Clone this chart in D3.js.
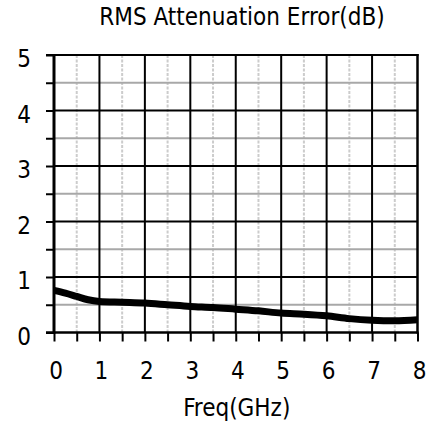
<!DOCTYPE html>
<html><head><meta charset="utf-8">
<script src="https://cdn.jsdelivr.net/npm/d3@7"></script>
<style>body{margin:0;background:#fff}svg{display:block}text{font-family:"DejaVu Sans Condensed","DejaVu Sans",sans-serif;fill:#000}</style>
</head><body>
<script>
const title = "RMS Attenuation Error(dB)";
const xTitle = "Freq(GHz)";
const freq = [0, 0.25, 0.5, 0.75, 1, 1.5, 2, 2.5, 3, 3.5, 4, 4.5, 5, 5.5, 6, 6.5, 7, 7.5, 8];
const rmsErr = [0.76, 0.71, 0.65, 0.59, 0.56, 0.545, 0.53, 0.50, 0.47, 0.45, 0.42, 0.39, 0.35, 0.33, 0.30, 0.25, 0.22, 0.21, 0.23];
const xTicks = [0,1,2,3,4,5,6,7,8];
const yTicks = [0,1,2,3,4,5];

const W = 435, H = 427;
const m = {l:54, r:17.5, t:55, b:94.5};
const svg = d3.select("body").append("svg").attr("width", W).attr("height", H);
const x = d3.scaleLinear().domain([0,8]).range([m.l, W-m.r]);
const y = d3.scaleLinear().domain([0,5]).range([H-m.b, m.t]);
const halfX = d3.range(0.5, 8, 1), halfY = d3.range(0.5, 5, 1);

// minor vertical dashed
svg.append("g").selectAll("line").data(halfX).join("line")
  .attr("x1", d=>x(d)).attr("x2", d=>x(d)).attr("y1", y(5)).attr("y2", y(0))
  .attr("stroke", "#cccccc").attr("stroke-width", 2).attr("stroke-dasharray", "3,1.5");
// minor horizontal gray
svg.append("g").selectAll("line").data(halfY).join("line")
  .attr("x1", x(0)).attr("x2", x(8)).attr("y1", d=>y(d)).attr("y2", d=>y(d))
  .attr("stroke", "#a8a8a8").attr("stroke-width", 2);
// major verticals
svg.append("g").selectAll("line").data(xTicks.slice(1,-1)).join("line")
  .attr("x1", d=>x(d)).attr("x2", d=>x(d)).attr("y1", y(5)).attr("y2", y(0))
  .attr("stroke", "#000").attr("stroke-width", 2);
// major horizontals
svg.append("g").selectAll("line").data(yTicks.slice(1,-1)).join("line")
  .attr("x1", x(0)).attr("x2", x(8)).attr("y1", d=>y(d)).attr("y2", d=>y(d))
  .attr("stroke", "#000").attr("stroke-width", 2);

// axes with ticks
const xAxis = d3.axisBottom(x).tickValues(d3.range(0, 8.01, 0.5)).tickSize(9).tickFormat("");
const gx = svg.append("g").attr("transform", `translate(0,${y(0)})`).call(xAxis);
gx.select(".domain").remove();
gx.selectAll(".tick line").attr("stroke", "#000").attr("stroke-width", 2);
const yAxis = d3.axisLeft(y).tickValues(d3.range(0, 5.01, 0.5)).tickSize(8).tickFormat("");
const gy = svg.append("g").attr("transform", `translate(${x(0)},0)`).call(yAxis);
gy.select(".domain").remove();
gy.selectAll(".tick line").attr("stroke", "#000").attr("stroke-width", 2);

// frame
svg.append("line").attr("x1", x(0)).attr("x2", x(0)).attr("y1", y(5)-1).attr("y2", y(0)+1).attr("stroke","#000").attr("stroke-width",3);
svg.append("line").attr("x1", x(8)).attr("x2", x(8)).attr("y1", y(5)-1).attr("y2", y(0)+1).attr("stroke","#000").attr("stroke-width",2.5);
svg.append("line").attr("x1", x(0)-8).attr("x2", x(8)+1).attr("y1", y(5)).attr("y2", y(5)).attr("stroke","#000").attr("stroke-width",2);
svg.append("line").attr("x1", x(0)-8).attr("x2", x(8)+1).attr("y1", y(0)).attr("y2", y(0)).attr("stroke","#000").attr("stroke-width",2.5);

// data line
svg.append("path").datum(freq.map((f,i)=>[f, rmsErr[i]]))
  .attr("d", d3.line().x(d=>x(d[0])).y(d=>y(d[1])).curve(d3.curveMonotoneX))
  .attr("fill","none").attr("stroke","#000").attr("stroke-width",7);

// labels
svg.append("g").selectAll("text").data(xTicks).join("text")
  .attr("x", d=>x(d)+2).attr("y", y(0)+46).attr("text-anchor","middle")
  .style("font-size","24px").text(d=>d);
svg.append("g").selectAll("text").data(yTicks).join("text")
  .attr("x", 31).attr("y", d=>y(d)+12).attr("text-anchor","end")
  .style("font-size","24px").text(d=>d);
svg.append("text").attr("x", (x(0)+x(8))/2+1).attr("y", 416).attr("text-anchor","middle")
  .style("font-size","24px").text(xTitle);
svg.append("text").attr("x", 242).attr("y", 25).attr("text-anchor","middle")
  .style("font-size","24px").text(title);
</script>
</body></html>
